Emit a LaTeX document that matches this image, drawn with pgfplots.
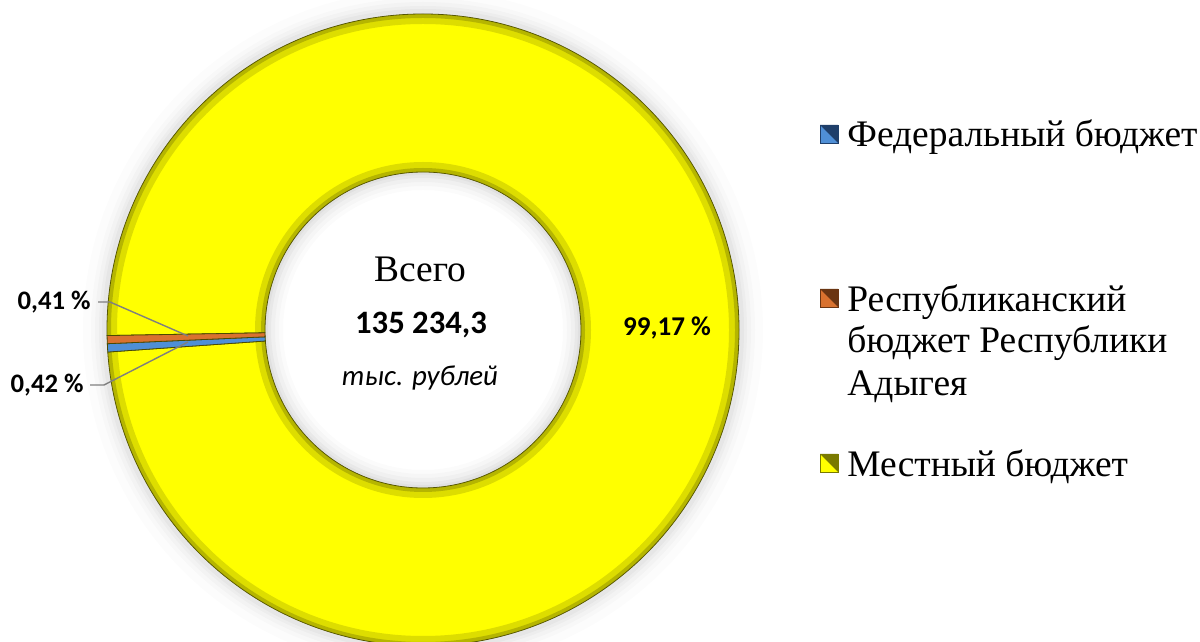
\documentclass[border=0pt]{standalone}
\usepackage{fontspec}
\setmainfont{Liberation Serif}
\newfontfamily\carlito{Carlito}
\usepackage{pgfplots}
\usepackage{pgfplotstable}
\pgfplotsset{compat=1.18}

\definecolor{fedblue}{HTML}{4F8FD6}
\definecolor{fedblueD}{HTML}{1F3F6A}
\definecolor{reporange}{HTML}{D9722F}
\definecolor{reporangeD}{HTML}{6A3512}
\definecolor{locyellow}{HTML}{FFFF00}
\definecolor{locyellowD}{HTML}{7A7A00}
\definecolor{edgeolive}{HTML}{4A4A00}
\definecolor{leader}{HTML}{7F7F7F}

% share of each budget, percent
\pgfplotstableread{
idx value
0 0.42
1 0.41
2 99.17
}\budget

% start angle, end angle, colour  (centre at axis 423,312; radii 158bp / 79bp)
\newcommand{\slice}[3]{%
  \fill[#3, draw=edgeolive, line width=0.4bp]
    ([shift={(#1:158bp)}]axis cs:423,312) arc[start angle=#1,end angle=#2,radius=158bp]
    -- ([shift={(#2:79bp)}]axis cs:423,312) arc[start angle=#2,end angle=#1,radius=79bp]
    -- cycle;}
\newcommand{\ring}[3]{% outer r, inner r, opacity
  \fill[black, opacity=#3, even odd rule] (axis cs:423,312) circle[radius=#1] (axis cs:423,312) circle[radius=#2];}
\newcommand{\legmark}[4]{% x, y, light, dark
  \fill[#3] ([shift={(-4.5bp,-4.5bp)}]axis cs:#1,#2) rectangle ([shift={(4.5bp,4.5bp)}]axis cs:#1,#2);
  \fill[#4] ([shift={(-4.5bp,4.5bp)}]axis cs:#1,#2) -- ([shift={(4.5bp,4.5bp)}]axis cs:#1,#2) -- ([shift={(4.5bp,-4.5bp)}]axis cs:#1,#2) -- cycle;
  \draw[#4, line width=0.3bp] ([shift={(-4.5bp,-4.5bp)}]axis cs:#1,#2) rectangle ([shift={(4.5bp,4.5bp)}]axis cs:#1,#2);}

\begin{document}
\begin{tikzpicture}
\pgfplotstablegetelem{0}{value}\of\budget \pgfmathsetmacro{\vA}{\pgfplotsretval}
\pgfplotstablegetelem{1}{value}\of\budget \pgfmathsetmacro{\vB}{\pgfplotsretval}
\pgfplotstablegetelem{2}{value}\of\budget \pgfmathsetmacro{\vC}{\pgfplotsretval}
\pgfmathsetmacro{\aZero}{184}
\pgfmathsetmacro{\aOne}{\aZero-3.6*\vA}
\pgfmathsetmacro{\aTwo}{\aOne-3.6*\vB}
\pgfmathsetmacro{\aThree}{\aTwo-3.6*\vC}
\begin{axis}[width=600bp,height=321bp,scale only axis,
  xmin=0,xmax=1200,ymin=0,ymax=642,hide axis,clip=false]
% soft shadow halo
\ring{170bp}{158bp}{0.012}
\ring{166bp}{158bp}{0.015}
\ring{164bp}{158bp}{0.02}
\ring{162bp}{158bp}{0.025}
\ring{160.5bp}{158bp}{0.03}
\ring{79bp}{70bp}{0.015}
\ring{79bp}{72bp}{0.02}
\ring{79bp}{74bp}{0.025}
\ring{79bp}{76bp}{0.03}
\ring{79bp}{77.5bp}{0.035}
% slices
\slice{\aTwo}{\aThree}{locyellow}
% bevel hint
\draw[locyellowD, opacity=0.25, line width=5bp] (axis cs:423,312) circle[radius=155.5bp];
\draw[locyellowD, opacity=0.4, line width=2bp] (axis cs:423,312) circle[radius=157bp];
\draw[locyellowD, opacity=0.25, line width=5bp] (axis cs:423,312) circle[radius=81.5bp];
\draw[locyellowD, opacity=0.4, line width=2bp] (axis cs:423,312) circle[radius=80bp];
\slice{\aZero}{\aOne}{fedblue}
\slice{\aOne}{\aTwo}{reporange}
% data labels
\draw[leader, line width=0.7bp] (axis cs:98,340) -- (axis cs:110,340) -- (axis cs:188,306);
\draw[leader, line width=0.7bp] (axis cs:90,257) -- (axis cs:104,257) -- (axis cs:188,300);
\node[font=\carlito\bfseries\fontsize{13.4}{15}\selectfont, anchor=east, inner sep=0] at (axis cs:91,340) {0,41 \%};
\node[font=\carlito\bfseries\fontsize{13.4}{15}\selectfont, anchor=east, inner sep=0] at (axis cs:84,257) {0,42 \%};
\node[font=\carlito\bfseries\fontsize{13.6}{15}\selectfont, inner sep=0] at (axis cs:667,314) {99,17 \%};
% centre text
\node[font=\fontsize{18.8}{21}\selectfont, inner sep=0] at (axis cs:420,373) {Всего};
\node[font=\carlito\bfseries\fontsize{16.4}{19}\selectfont, inner sep=0] at (axis cs:421,317) {135 234,3};
\node[font=\carlito\itshape\fontsize{14.5}{18}\selectfont, inner sep=0] at (axis cs:420,264) {тыс. рублей};
% legend
\legmark{829}{508}{fedblue}{fedblueD}
\legmark{829}{344}{reporange}{reporangeD}
\legmark{829}{179}{locyellow}{locyellowD}
\node[font=\fontsize{18.8}{21}\selectfont, anchor=base west, inner sep=0] at (axis cs:847,495) {Федеральный бюджет};
\node[font=\fontsize{18.8}{21}\selectfont, anchor=base west, inner sep=0] at (axis cs:847,330) {Республиканский};
\node[font=\fontsize{18.8}{21}\selectfont, anchor=base west, inner sep=0] at (axis cs:847,289) {бюджет Республики};
\node[font=\fontsize{18.8}{21}\selectfont, anchor=base west, inner sep=0] at (axis cs:847,246) {Адыгея};
\node[font=\fontsize{18.8}{21}\selectfont, anchor=base west, inner sep=0] at (axis cs:847,165) {Местный бюджет};
\end{axis}
\pgfresetboundingbox
\path[use as bounding box] (current axis.south west) rectangle (current axis.north east);
\end{tikzpicture}
\end{document}
